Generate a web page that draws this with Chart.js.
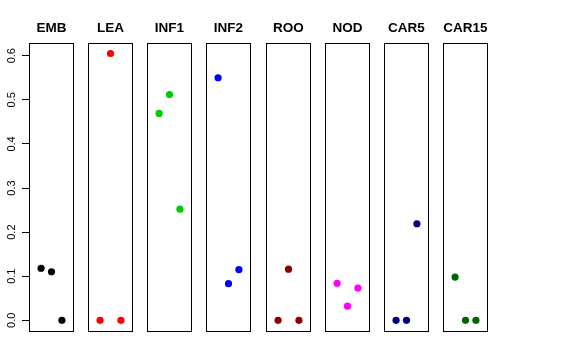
<!DOCTYPE html>
<html><head><meta charset="utf-8">
<script src="https://cdn.jsdelivr.net/npm/chart.js@4"></script>
<style>
html,body{margin:0;padding:0;background:#fff;width:576px;height:360px;overflow:hidden}
canvas{position:absolute;top:0}
</style></head><body>
<script>
const categories = ['EMB','LEA','INF1','INF2','ROO','NOD','CAR5','CAR15'];
const xPositions = [1, 2, 3];
const valEMB  = [0.118, 0.110, 0.000];
const valLEA  = [0.000, 0.605, 0.000];
const valINF1 = [0.469, 0.512, 0.252];
const valINF2 = [0.550, 0.083, 0.115];
const valROO  = [0.000, 0.116, 0.000];
const valNOD  = [0.084, 0.032, 0.073];
const valCAR5 = [0.000, 0.000, 0.219];
const valCAR15= [0.098, 0.000, 0.000];
const seriesValues = [valEMB, valLEA, valINF1, valINF2, valROO, valNOD, valCAR5, valCAR15];
const colors = ['#000000','#FF0000','#00CD00','#0000FF','#8B0000','#FF00FF','#000080','#006400'];
const yTicks = [0, 0.1, 0.2, 0.3, 0.4, 0.5, 0.6];
const yTickLabels = ['0.0','0.1','0.2','0.3','0.4','0.5','0.6'];

const AXIS_W = 29, PANEL_W = 45, STEP = 59.14, H = 332;

const boxPlugin = {
  id: 'box',
  afterDraw(chart) {
    const a = chart.chartArea, c = chart.ctx;
    c.save();
    c.strokeStyle = '#000';
    c.lineWidth = 1;
    c.strokeRect(a.left + 0.5, a.top + 0.5, a.right - a.left - 1, a.bottom - a.top - 1);
    c.restore();
  }
};

categories.forEach((cat, i) => {
  const first = i === 0;
  const left = first ? 0 : Math.round(AXIS_W + i * STEP);
  const w = first ? AXIS_W + PANEL_W : PANEL_W;
  const cv = document.createElement('canvas');
  cv.width = w; cv.height = H;
  cv.style.left = left + 'px';
  cv.style.width = w + 'px';
  cv.style.height = H + 'px';
  document.body.appendChild(cv);
  new Chart(cv, {
    type: 'scatter',
    data: {
      datasets: [{
        data: seriesValues[i].map((v, k) => ({x: xPositions[k], y: v})),
        backgroundColor: colors[i],
        borderWidth: 0,
        pointRadius: 3.6
      }]
    },
    options: {
      responsive: false,
      devicePixelRatio: 1,
      animation: false,
      events: [],
      layout: {padding: 0, autoPadding: false},
      plugins: {
        legend: {display: false},
        tooltip: {enabled: false},
        title: {
          display: true,
          text: cat,
          fullSize: false,
          color: '#000',
          font: {family: 'Liberation Sans, Arial, sans-serif', size: 13.5, weight: 'bold', lineHeight: 1.2},
          padding: {top: 20, bottom: 6.8}
        }
      },
      scales: {
        x: {type: 'linear', min: -0.16, max: 4.16, display: false},
        y: {
          type: 'linear',
          min: -0.0265, max: 0.6288,
          display: first,
          position: 'left',
          border: {display: false},
          grid: {drawOnChartArea: false, drawTicks: true, tickLength: 7, color: '#000', lineWidth: 1},
          afterBuildTicks: s => { s.ticks = yTicks.map(v => ({value: v})); },
          afterFit: s => {
            if (first) {
              s.width = AXIS_W;
              s.paddingTop = 0; s.paddingBottom = 0; s.paddingLeft = 0; s.paddingRight = 0;
            }
          },
          ticks: {
            minRotation: 90, maxRotation: 90,
            crossAlign: 'center',
            padding: 2.5,
            color: '#000',
            font: {family: 'Liberation Sans, Arial, sans-serif', size: 11},
            callback: (v, idx) => yTickLabels[idx]
          }
        }
      }
    },
    plugins: [boxPlugin]
  });
});
</script>
</body></html>
